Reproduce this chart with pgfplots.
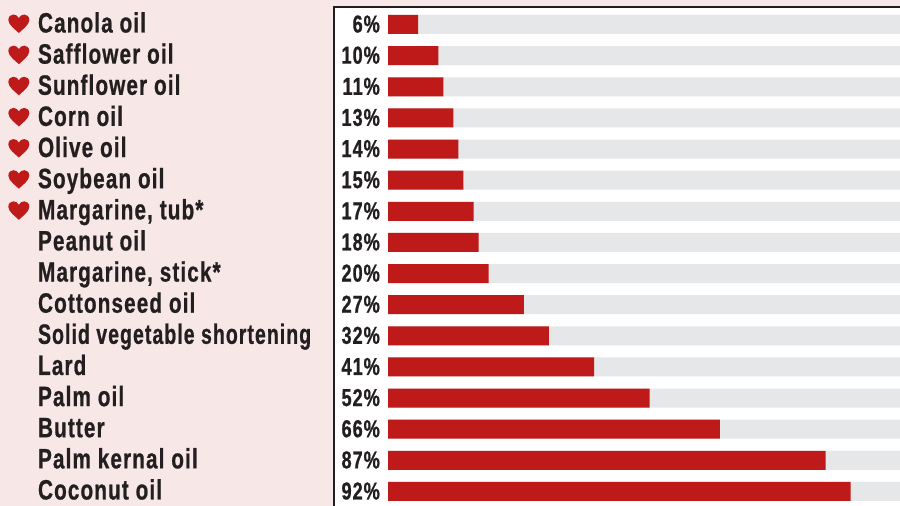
\documentclass[border=0pt]{standalone}
\usepackage{graphicx}
\usepackage{pgfplots}
\usepackage{pgfplotstable}
\usepackage{fontspec}
\pgfplotsset{compat=1.18}
\setmainfont{Liberation Sans}[FakeStretch=0.74, LetterSpace=4, BoldFeatures={FakeBold=0.7}]

\definecolor{panelpink}{HTML}{F8E7E7}
\definecolor{barred}{HTML}{BE1A1A}
\definecolor{trackgray}{HTML}{E6E7E8}
\definecolor{inkdark}{HTML}{231F20}

% Heart used beside the heart-healthy fats
\pgfdeclareplotmark{heart}{%
  \pgfpathmoveto{\pgfqpoint{0pt}{-9.5pt}}
  \pgfpathcurveto{\pgfqpoint{-3pt}{-6.5pt}}{\pgfqpoint{-10.5pt}{-1.5pt}}{\pgfqpoint{-10.5pt}{3.5pt}}
  \pgfpathcurveto{\pgfqpoint{-10.5pt}{7pt}}{\pgfqpoint{-8pt}{9pt}}{\pgfqpoint{-5.5pt}{9pt}}
  \pgfpathcurveto{\pgfqpoint{-3pt}{9pt}}{\pgfqpoint{-1pt}{7.5pt}}{\pgfqpoint{0pt}{5.5pt}}
  \pgfpathcurveto{\pgfqpoint{1pt}{7.5pt}}{\pgfqpoint{3pt}{9pt}}{\pgfqpoint{5.5pt}{9pt}}
  \pgfpathcurveto{\pgfqpoint{8pt}{9pt}}{\pgfqpoint{10.5pt}{7pt}}{\pgfqpoint{10.5pt}{3.5pt}}
  \pgfpathcurveto{\pgfqpoint{10.5pt}{-1.5pt}}{\pgfqpoint{3pt}{-6.5pt}}{\pgfqpoint{0pt}{-9.5pt}}
  \pgfpathclose
  \pgfusepathqfill
}

% Saturated fat share of each fat or oil, in percent
\pgfplotstableread{
row value zero track
0  6  0 101.8
1  10 0 101.8
2  11 0 101.8
3  13 0 101.8
4  14 0 101.8
5  15 0 101.8
6  17 0 101.8
7  18 0 101.8
8  20 0 101.8
9  27 0 101.8
10 32 0 101.8
11 41 0 101.8
12 52 0 101.8
13 66 0 101.8
14 87 0 101.8
15 92 0 101.8
}\fatdata

\pgfplotstableread{
row hx
0 -73.4
1 -73.4
2 -73.4
3 -73.4
4 -73.4
5 -73.4
6 -73.4
}\heartdata

\begin{document}
\begin{tikzpicture}[x=1pt,y=1pt]
  \path[use as bounding box] (0,0) rectangle (900,506);
  \fill[panelpink] (0,0) rectangle (900,506);
  \fill[white] (334,0) rectangle (900,499);
  \draw[inkdark,line width=2pt] (334,0) -- (334,499) -- (900,499);
  \begin{axis}[
    at={(388pt,0pt)}, anchor=south west,
    scale only axis, width=512pt, height=499pt,
    xmin=0, xmax=101.8,
    ymin=-0.562, ymax=15.466, y dir=reverse,
    axis line style={draw=none},
    xtick=\empty,
    ytick={0,...,15},
    yticklabels={Canola oil,Safflower oil,Sunflower oil,Corn oil,Olive oil,Soybean oil,{Margarine, tub*},Peanut oil,{Margarine, stick*},Cottonseed oil,{\scalebox{0.94}[1]{Solid vegetable shortening}},Lard,Palm oil,Butter,Palm kernal oil,Coconut oil},
    major tick length=0pt,
    yticklabel style={anchor=west, xshift=-353.5pt, yshift=-1pt, inner sep=3.33pt, text height=20pt, text depth=6pt,
      font=\fontsize{28}{28}\bfseries, text=inkdark},
    clip=false,
  ]
    \addplot[xbar, bar shift=0pt, bar width=19pt, fill=trackgray, draw=none]
      table[x=track, y=row] {\fatdata};
    \addplot[xbar, bar shift=0pt, bar width=19pt, fill=barred, draw=none]
      table[x=value, y=row] {\fatdata};
    \addplot[draw=none, mark=none, point meta=explicit symbolic,
      nodes near coords={\pgfplotspointmeta\%},
      nodes near coords style={anchor=east, xshift=-8pt, inner sep=0pt, text height=18pt, text depth=2pt,
        font=\fontsize{24.5}{25}\bfseries, text=inkdark}]
      table[x=zero, y=row, meta=value] {\fatdata};
    \addplot[only marks, mark=heart, color=barred, mark options={yshift=1pt}]
      table[x=hx, y=row] {\heartdata};
  \end{axis}
\end{tikzpicture}
\end{document}
